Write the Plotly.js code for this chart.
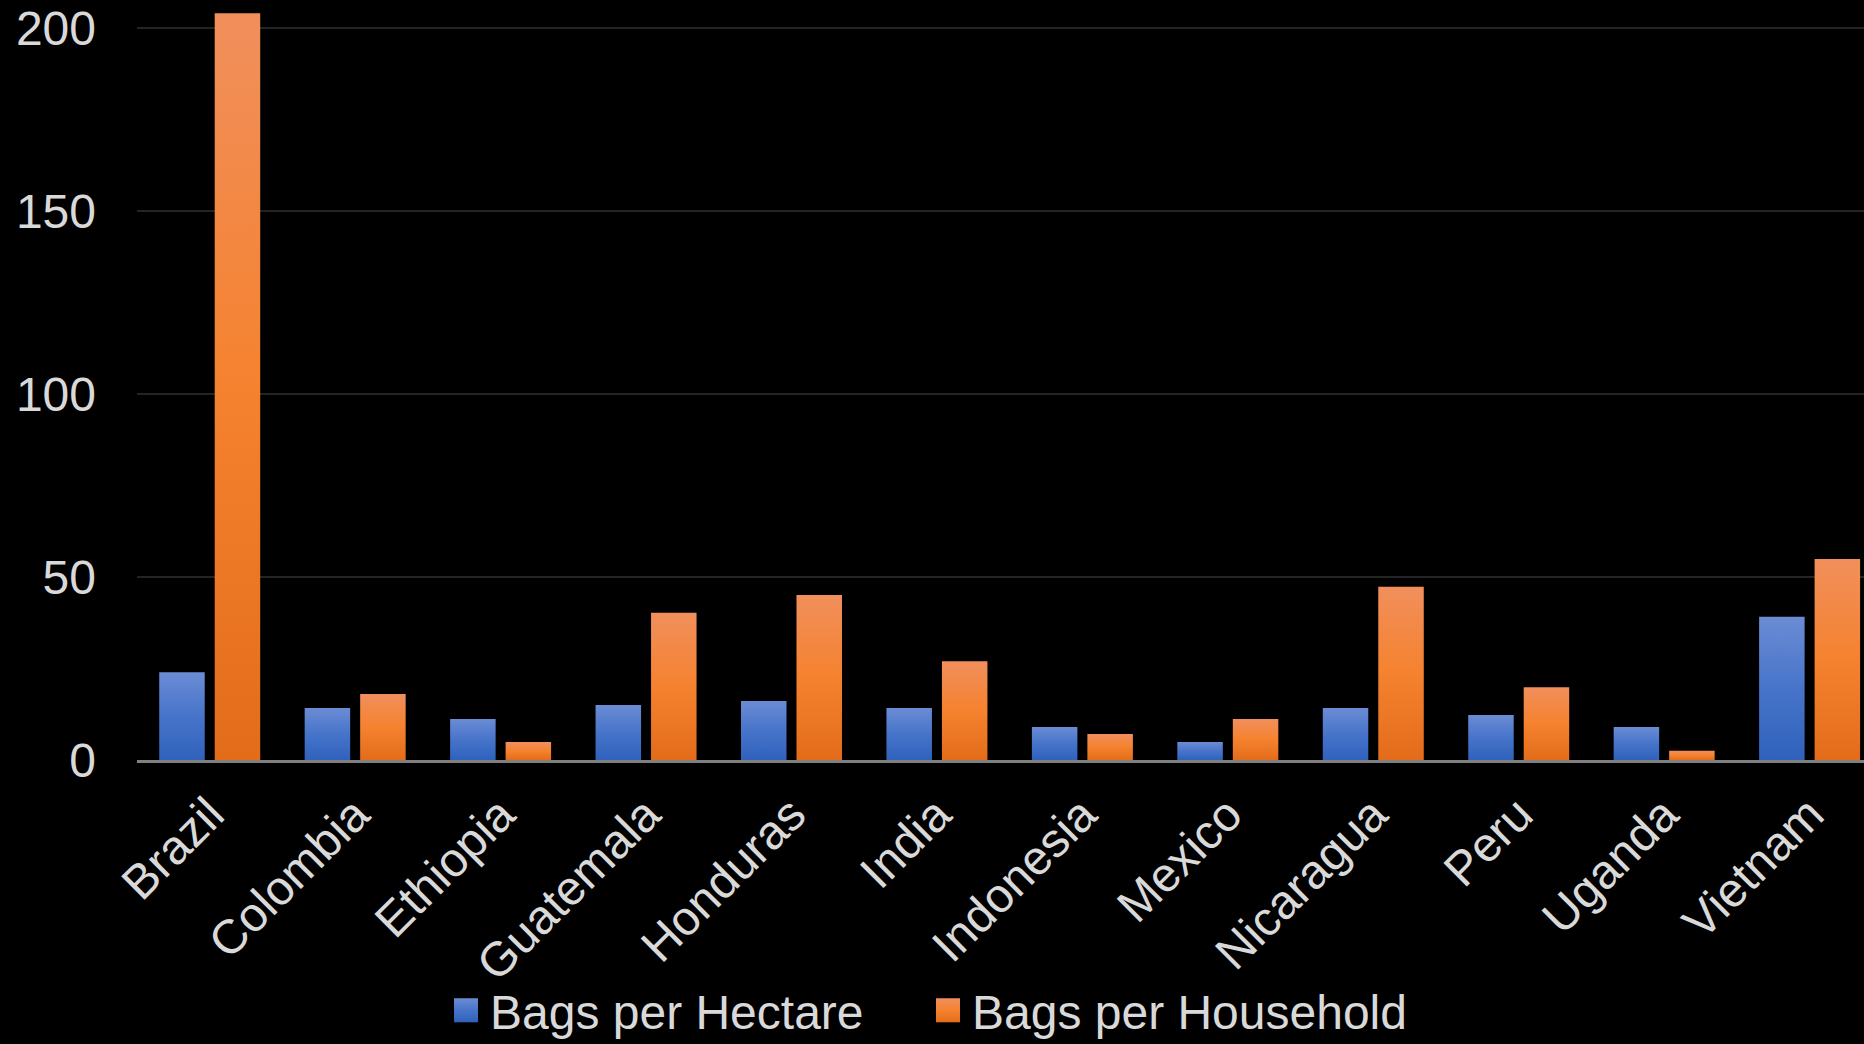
<!DOCTYPE html>
<html>
<head>
<meta charset="utf-8">
<script src="https://cdn.plot.ly/plotly-3.0.1.min.js"></script>
<style>
  html, body { margin: 0; padding: 0; background: #000; }
  #chart { width: 1864px; height: 1044px; }
</style>
</head>
<body>
<div id="chart"></div>
<script>
// Coffee bags per hectare and per household, by producing country
const countries = ['Brazil', 'Colombia', 'Ethiopia', 'Guatemala', 'Honduras', 'India',
                   'Indonesia', 'Mexico', 'Nicaragua', 'Peru', 'Uganda', 'Vietnam'];
const bagsPerHectare   = [24, 14.2, 11.2, 15, 16.1, 14.2, 9, 4.9, 14.2, 12.3, 9, 39.1];
const bagsPerHousehold = [204, 18, 4.9, 40.2, 45.1, 27, 7.1, 11.2, 47.3, 19.9, 2.5, 54.9];
const seriesNames = ['Bags per Hectare', 'Bags per Household'];
const yTicks = [0, 50, 100, 150, 200];

const textColor = '#d9d9d9';
const fontFamily = '"Liberation Sans", Arial, sans-serif';
const fontSize = 48;

const traces = [
  { type: 'bar', name: seriesNames[0], x: countries, y: bagsPerHectare,
    marker: { color: '#4472c4', line: { width: 0 } }, hoverinfo: 'x+y' },
  { type: 'bar', name: seriesNames[1], x: countries, y: bagsPerHousehold,
    marker: { color: '#f5822f', line: { width: 0 } }, hoverinfo: 'x+y' }
];

const layout = {
  width: 1864,
  height: 1044,
  paper_bgcolor: '#000',
  plot_bgcolor: '#000',
  font: { family: fontFamily, size: fontSize, color: textColor },
  margin: { l: 137, r: 0, t: 0, b: 284, pad: 0 },
  barmode: 'group',
  bargap: 0.237,
  bargroupgap: 0.18,
  showlegend: true,
  legend: {
    orientation: 'h',
    xref: 'container', yref: 'container',
    x: 0.5, xanchor: 'center',
    y: 0.032, yanchor: 'middle',
    font: { family: fontFamily, size: fontSize, color: textColor },
    bgcolor: 'rgba(0,0,0,0)',
    entrywidth: 437,
    entrywidthmode: 'pixels',
    itemclick: false, itemdoubleclick: false
  },
  xaxis: {
    type: 'category',
    range: [-0.5, 11.374],
    tickangle: -45,
    tickfont: { family: fontFamily, size: fontSize, color: textColor },
    ticklabelstandoff: 4,
    showgrid: false,
    showline: true,
    linecolor: 'rgba(255,255,255,0.5)',
    linewidth: 3,
    layer: 'above traces',
    ticks: '',
    fixedrange: true
  },
  yaxis: {
    range: [0, 207.6],
    tickvals: yTicks,
    ticktext: yTicks.map(String),
    tickfont: { family: fontFamily, size: fontSize, color: textColor },
    ticklabelstandoff: 40,
    showgrid: true,
    gridcolor: '#242424',
    gridwidth: 2,
    zeroline: false,
    showline: false,
    ticks: '',
    fixedrange: true
  }
};

// Vertical light-to-dark fills for each series
const gradients = [
  { id: 'fillHectare',   stops: [['0%', '#6b8cd4'], ['50%', '#4774ca'], ['100%', '#2f62bc']] },
  { id: 'fillHousehold', stops: [['0%', '#f18f5c'], ['50%', '#f5822f'], ['100%', '#e36c1a']] }
];

function applyGradients(gd) {
  const svgNS = 'http://www.w3.org/2000/svg';
  const svg = gd.querySelector('svg.main-svg');
  let defs = svg.querySelector('defs');
  if (!defs) { defs = document.createElementNS(svgNS, 'defs'); svg.insertBefore(defs, svg.firstChild); }
  gradients.forEach(g => {
    if (document.getElementById(g.id)) return;
    const lg = document.createElementNS(svgNS, 'linearGradient');
    lg.setAttribute('id', g.id);
    lg.setAttribute('x1', '0'); lg.setAttribute('y1', '0');
    lg.setAttribute('x2', '0'); lg.setAttribute('y2', '1');
    g.stops.forEach(([off, col]) => {
      const s = document.createElementNS(svgNS, 'stop');
      s.setAttribute('offset', off);
      s.setAttribute('stop-color', col);
      lg.appendChild(s);
    });
    defs.appendChild(lg);
  });

  gd.querySelectorAll('.barlayer .trace.bars').forEach((tr, i) => {
    tr.querySelectorAll('.point path').forEach(p => { p.style.fill = 'url(#' + gradients[i].id + ')'; });
  });

  // Larger square swatches in the legend
  gd.querySelectorAll('.legend .traces').forEach((tr, i) => {
    tr.querySelectorAll('.legendpoints path').forEach(p => {
      p.setAttribute('d', 'M8,12H-16V-12H8Z');
      p.style.fill = 'url(#' + gradients[i].id + ')';
      p.style.stroke = 'none';
    });
  });
}

Plotly.newPlot('chart', traces, layout, { displayModeBar: false, staticPlot: true })
  .then(applyGradients);
</script>
</body>
</html>
